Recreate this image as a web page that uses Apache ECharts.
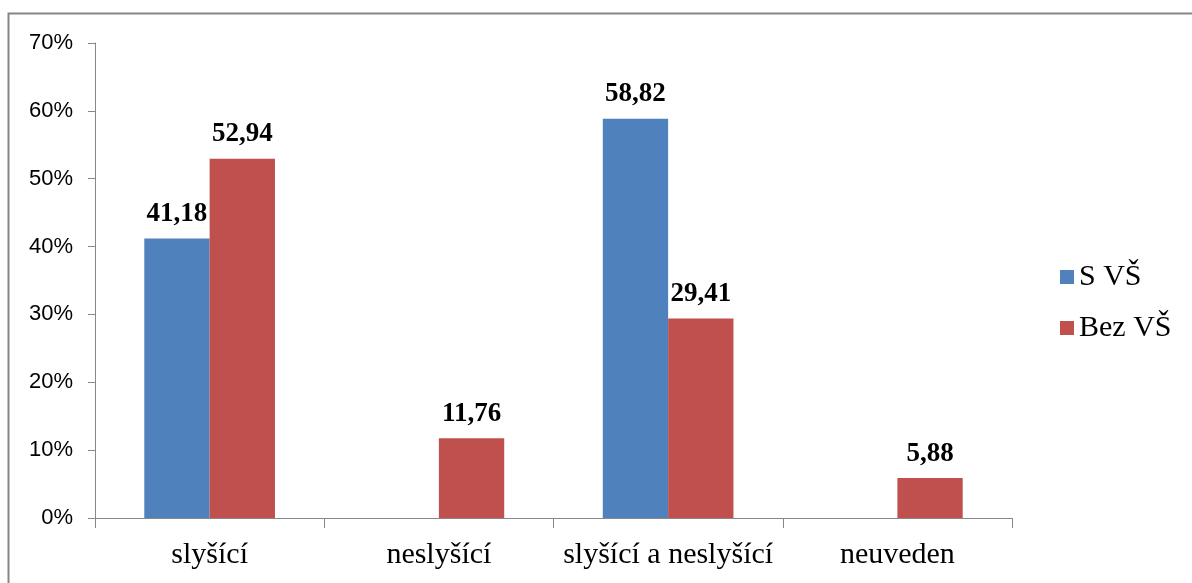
<!DOCTYPE html>
<html><head><meta charset="utf-8">
<script src="https://cdn.jsdelivr.net/npm/echarts@6/dist/echarts.min.js"></script>
<style>html,body{margin:0;padding:0;background:#fff}#c{width:1192px;height:583px}</style>
</head><body><div id="c"></div>
<script>
const categories = ['slyšící', 'neslyšící', 'slyšící a neslyšící', 'neuveden'];
const seriesNames = ['S VŠ', 'Bez VŠ'];
const sVS = [41.18, null, 58.82, null];
const bezVS = [52.94, 11.76, 29.41, 5.88];
const yTicks = { min: 0, max: 70, interval: 10 };

const serif = '"Liberation Serif", "Times New Roman", serif';
const sans = '"Liberation Sans", Arial, sans-serif';
const labelCfg = {
  show: true, position: 'top', distance: 11,
  fontFamily: serif, fontWeight: 'bold', fontSize: 27, color: '#000',
  formatter: p => p.value == null ? '' : p.value.toFixed(2).replace('.', ',')
};
const chart = echarts.init(document.getElementById('c'), null, { renderer: 'canvas' });
chart.setOption({
  animation: false,
  backgroundColor: '#fff',
  graphic: [{ type: 'rect', shape: { x: 8.5, y: 13.5, width: 1200, height: 600 },
    style: { fill: 'none', stroke: '#868686', lineWidth: 2 }, silent: true }],
  grid: { left: 95, right: 180, top: 43, bottom: 65, containLabel: false },
  legend: {
    orient: 'vertical', left: 1055, top: 257, itemWidth: 14, itemHeight: 14,
    itemGap: 21, icon: 'rect',
    textStyle: { fontFamily: serif, fontSize: 30, color: '#000' },
    data: seriesNames
  },
  xAxis: {
    type: 'category', data: categories,
    axisLine: { lineStyle: { color: '#888', width: 1 } },
    axisTick: { show: true, length: 10, interval: 0, alignWithLabel: false, lineStyle: { color: '#888' } },
    axisLabel: { interval: 0, fontFamily: serif, fontSize: 30, color: '#000', margin: 22 }
  },
  yAxis: {
    type: 'value', min: yTicks.min, max: yTicks.max, interval: yTicks.interval,
    axisLine: { show: true, lineStyle: { color: '#888', width: 1 } },
    axisTick: { show: true, length: 7, lineStyle: { color: '#888' } },
    splitLine: { show: false },
    axisLabel: { formatter: '{value}%', fontFamily: sans, fontSize: 22, color: '#000', margin: 22 }
  },
  series: [
    { name: seriesNames[0], type: 'bar', data: sVS, barGap: '0%', barCategoryGap: '43%',
      itemStyle: { color: '#4F81BD' }, label: labelCfg },
    { name: seriesNames[1], type: 'bar', data: bezVS, barGap: '0%', barCategoryGap: '43%',
      itemStyle: { color: '#C0504D' }, label: labelCfg }
  ]
});
</script></body></html>
